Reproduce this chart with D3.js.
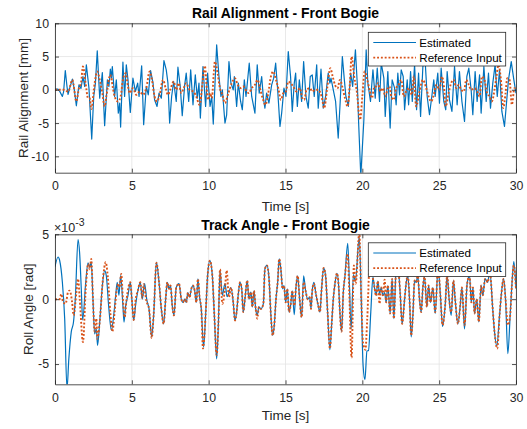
<!DOCTYPE html>
<html><head><meta charset="utf-8">
<script src="https://cdn.jsdelivr.net/npm/d3@7"></script>
<style>
body{margin:0;background:#fff}
svg{display:block}
text{font-family:"Liberation Sans",Arial,Helvetica,sans-serif}
</style>
</head><body>
<svg id="c" width="527" height="429"></svg>
<script>
// ---------------- data ----------------
const timeTicks = [0, 5, 10, 15, 20, 25, 30];
const railTicks = [-10, -5, 0, 5, 10];
const rollTicks = [-5, 0, 5];            // in units of 1e-3 rad
const seriesNames = ["Estimated", "Reference Input"];
const titles = ["Rail Alignment - Front Bogie", "Track Angle - Front Bogie"];
const yLabels = ["Rail Alignment [mm]", "Roll Angle [rad]"];
const xLabel = "Time [s]";

// Rail alignment [mm] : [time s, value]
const railEstimated = [[0,0.1],[0.19,0.1],[0.3,-0.2],[0.48,-1.0],[0.56,-0.3],[0.67,2.9],[0.78,0.5],[0.85,-0.7],[0.95,0.2],[1.13,1.6],[1.24,0.3],[1.39,-2.4],[1.56,0.75],[1.69,0.2],[1.82,2.0],[1.93,0.5],[2.04,3.75],[2.21,0.25],[2.39,-7.4],[2.52,-1.0],[2.63,1.0],[2.75,5.85],[2.91,-1.25],[3.08,2.6],[3.23,-5.4],[3.41,1.5],[3.51,0.5],[3.6,3.1],[3.67,1.8],[3.73,3.5],[3.88,-1.0],[3.99,1.5],[4.12,-3.5],[4.21,-2.0],[4.27,-5.6],[4.42,4.15],[4.53,-1.0],[4.64,3.75],[4.75,1.5],[4.9,-3.4],[5.07,1.75],[5.23,-0.25],[5.38,1.0],[5.47,-1.0],[5.64,3.6],[5.77,-5.25],[5.94,0.5],[6.07,-0.75],[6.22,2.9],[6.38,1.0],[6.48,-1.5],[6.64,-2.5],[6.77,-0.5],[6.92,-1.25],[7.09,4.4],[7.24,3.0],[7.35,1.0],[7.46,-5.0],[7.59,-1.0],[7.72,1.25],[7.89,-1.75],[8.0,3.4],[8.15,0.5],[8.28,-3.9],[8.44,0.75],[8.54,2.5],[8.7,-1.75],[8.83,3.0],[8.98,-2.25],[9.13,2.25],[9.26,-1.25],[9.37,1.0],[9.46,-4.25],[9.63,3.5],[9.8,-2.5],[9.93,2.5],[10.09,-2.5],[10.2,-1.0],[10.3,-5.15],[10.52,6.75],[10.67,2.0],[10.8,-1.0],[10.89,0],[11.06,-5.0],[11.17,-3.75],[11.32,4.25],[11.45,1.0],[11.6,0],[11.67,2.0],[11.82,-2.5],[11.93,1.0],[12.08,-1.75],[12.19,-3.0],[12.32,1.5],[12.43,-1.0],[12.64,4.0],[12.8,-1.0],[13.01,-3.5],[13.16,3.75],[13.29,-0.5],[13.45,2.0],[13.56,-1.25],[13.66,-2.75],[13.77,-0.5],[13.92,-2.0],[14.1,0.75],[14.23,1.75],[14.36,4.0],[14.49,0],[14.64,-5.5],[14.75,-3.5],[14.9,0.25],[15.03,-1.0],[15.18,5.75],[15.33,2.0],[15.44,-3.25],[15.57,1.0],[15.66,2.5],[15.77,-2.5],[15.9,1.5],[16.05,-1.75],[16.18,4.25],[16.33,-1.0],[16.48,-2.75],[16.61,2.0],[16.74,2.25],[16.87,-1.0],[17.03,3.75],[17.13,-2.75],[17.31,3.1],[17.46,-2.75],[17.61,-1.0],[17.78,2.5],[17.89,1.0],[17.96,1.75],[18.11,0],[18.26,-1.75],[18.43,-7.25],[18.56,-1.75],[18.7,5.0],[18.83,1.5],[18.93,-1.0],[19.09,-2.5],[19.24,2.5],[19.37,0.5],[19.55,6.0],[19.68,0.5],[19.76,-5.0],[19.9,-13],[20.1,-4.5],[20.25,6.0],[20.36,1.0],[20.53,-1.75],[20.69,3.0],[20.84,-1.25],[20.97,3.25],[21.12,-1.75],[21.23,4.0],[21.4,1.75],[21.49,-4.0],[21.66,2.75],[21.81,-5.75],[21.94,1.5],[22.1,0.25],[22.2,-2.25],[22.31,2.5],[22.42,-0.75],[22.53,3.0],[22.66,2.0],[22.75,-3.0],[22.92,1.5],[23.01,-2.25],[23.14,2.75],[23.25,-1.75],[23.4,3.75],[23.53,-3.0],[23.66,2.5],[23.79,-4.0],[23.94,3.5],[24.09,4.25],[24.22,-1.0],[24.37,-3.75],[24.52,-1.0],[24.65,1.5],[24.74,-1.0],[24.91,2.5],[25.02,-2.0],[25.13,3.25],[25.3,-1.75],[25.43,-3.0],[25.52,2.75],[25.67,-1.5],[25.83,-3.25],[26.0,3.5],[26.17,-2.25],[26.32,2.75],[26.48,-1.75],[26.65,-4.75],[26.8,2.0],[26.93,3.25],[27.08,0],[27.19,-3.75],[27.34,2.75],[27.47,-1.75],[27.63,2.25],[27.73,-3.5],[27.91,3.5],[28.06,-1.75],[28.21,2.5],[28.34,-2.75],[28.49,1.0],[28.64,3.75],[28.78,-1.0],[28.93,3.0],[29.08,-3.25],[29.25,-5.5],[29.4,-1.5],[29.51,1.5],[29.69,4.25],[29.86,1.5],[30.0,-0.5]];

const railReference = [[0,0],[0.6,0],[0.85,-0.3],[1.13,1.5],[1.39,-1.75],[1.56,0.25],[1.69,1.0],[1.82,3.5],[1.99,1.0],[2.15,-1.25],[2.26,-1.25],[2.36,-2.9],[2.58,1.0],[2.75,2.75],[2.91,1.5],[3.08,-0.5],[3.23,-2.5],[3.34,-1.0],[3.6,2.25],[3.77,0.25],[3.88,-1.0],[4.1,-1.75],[4.27,-1.0],[4.42,1.5],[4.6,2.5],[4.75,0.5],[4.86,-0.5],[5.07,0.25],[5.29,-0.75],[5.51,-0.25],[5.73,-0.75],[5.94,0.25],[6.16,2.75],[6.31,1.5],[6.48,-1.0],[6.64,-1.75],[6.81,-0.75],[7.03,1.5],[7.2,0.25],[7.35,-0.75],[7.5,0],[7.72,1.25],[7.89,0],[8.05,1.0],[8.22,-0.5],[8.37,0.25],[8.54,1.0],[8.76,0],[8.98,-0.25],[9.15,-0.75],[9.41,-2.25],[9.6,1.0],[9.75,3.6],[9.95,-1.5],[10.1,-0.5],[10.2,-1.25],[10.41,4.25],[10.58,2.5],[10.73,0.25],[10.89,-0.75],[11.06,-2.0],[11.28,-0.5],[11.5,1.0],[11.71,1.75],[11.89,0.75],[12.04,0.25],[12.25,0.5],[12.47,-0.25],[12.62,-0.5],[12.8,0.25],[13.01,0.75],[13.19,1.5],[13.34,0.25],[13.51,-1.25],[13.7,-2.25],[13.88,-0.5],[14.05,2.0],[14.2,2.75],[14.38,1.5],[14.53,0.25],[14.7,-1.5],[14.86,-0.5],[15.03,-0.25],[15.18,1.25],[15.33,1.0],[15.51,0.5],[15.72,-0.25],[15.94,0.25],[16.09,-1.25],[16.22,-1.5],[16.37,0],[16.59,0.25],[16.74,-0.25],[16.92,0],[17.13,0],[17.35,-1.0],[17.52,-2.75],[17.7,0],[17.92,3.25],[18.07,2.0],[18.22,0.75],[18.39,0.25],[18.54,1.5],[18.72,0.25],[18.87,-1.25],[19.04,-2.5],[19.19,1.0],[19.3,5.0],[19.47,2.0],[19.64,-0.25],[19.85,-4.5],[20.0,-1.0],[20.15,2.75],[20.32,1.5],[20.47,0],[20.62,-1.25],[20.79,0.5],[20.9,0.5],[21.01,1.0],[21.18,-0.25],[21.34,0.25],[21.49,-1.0],[21.66,0.25],[21.77,0.5],[21.88,-1.0],[22.05,-1.5],[22.2,0.25],[22.36,0.75],[22.53,1.5],[22.7,-1.0],[22.85,-0.25],[23.07,0.25],[23.22,-0.75],[23.35,2.0],[23.5,-2.5],[23.72,-0.25],[23.94,1.5],[24.16,0.25],[24.31,-1.0],[24.48,-1.75],[24.65,-0.75],[24.81,0.75],[25.02,0],[25.18,2.0],[25.3,0.75],[25.43,-2.5],[25.61,-0.5],[25.78,1.0],[25.95,1.5],[26.11,0.25],[26.26,0.75],[26.43,0],[26.61,-0.25],[26.76,1.5],[26.93,0.75],[27.08,0],[27.3,0.25],[27.47,-0.25],[27.63,-1.0],[27.78,2.0],[27.95,1.5],[28.12,-0.5],[28.28,-1.0],[28.43,-1.75],[28.6,0],[28.73,2.0],[28.86,3.75],[29.04,1.0],[29.17,-2.75],[29.32,-0.5],[29.43,1.75],[29.58,1.5],[29.73,-2.25],[29.9,0.25],[30.0,0]];

// Roll angle [x1e-3 rad] : [time s, value]
const rollEstimated = [[0,2.5],[0.2,3.25],[0.3,3.0],[0.48,1.3],[0.63,-1.5],[0.78,-6.9],[0.9,-4.6],[1.06,-2.5],[1.2,-1.8],[1.32,0],[1.5,4.6],[1.6,3.6],[1.71,0.8],[1.8,-1.6],[2.0,1.3],[2.15,2.8],[2.26,2.46],[2.36,2.85],[2.47,0],[2.58,-2.67],[2.69,-2.3],[2.77,-3.56],[2.91,-1.75],[3.08,1.0],[3.23,2.2],[3.34,1.8],[3.49,-0.5],[3.67,-2.4],[3.82,-1.25],[3.95,0.3],[4.05,1.3],[4.16,0.3],[4.27,1.82],[4.42,-0.5],[4.49,-1.77],[4.6,-0.5],[4.75,0.3],[4.9,1.3],[5.0,0],[5.12,-1.64],[5.25,-0.4],[5.4,0.67],[5.55,1.3],[5.68,0],[5.83,1.2],[5.98,-0.1],[6.12,-0.75],[6.29,-2.9],[6.42,-1.25],[6.6,2.85],[6.77,1.3],[6.92,-0.75],[7.07,-1.9],[7.2,0],[7.31,1.3],[7.42,0.8],[7.52,1.05],[7.63,-0.5],[7.74,-1.25],[7.89,0.9],[8.07,1.2],[8.22,0],[8.33,-0.25],[8.44,0],[8.54,-0.25],[8.65,0.5],[8.76,0.15],[8.87,0.8],[8.98,1.05],[9.09,0.65],[9.2,-0.25],[9.3,1.56],[9.41,0.15],[9.52,-0.75],[9.67,-3.7],[9.8,-1.25],[9.93,1.8],[10.08,2.97],[10.24,1.8],[10.37,-1.25],[10.52,-4.6],[10.63,-2.0],[10.74,2.2],[10.89,0.3],[11.06,1.2],[11.2,0.2],[11.45,0.9],[11.6,-0.25],[11.71,-1.64],[11.82,-1.0],[11.93,0.4],[12.04,1.3],[12.15,0.8],[12.25,-1.0],[12.36,0],[12.51,1.44],[12.62,0],[12.75,0.55],[12.84,-0.6],[12.95,0.65],[13.06,-0.75],[13.16,-1.25],[13.27,-0.6],[13.4,-0.75],[13.56,-0.35],[13.66,2.33],[13.79,2.6],[13.92,1.7],[14.05,-1.25],[14.16,-2.8],[14.27,-2.0],[14.38,0],[14.49,1.3],[14.59,3.1],[14.7,2.3],[14.81,0.8],[14.9,1.05],[15.01,-0.25],[15.12,0.8],[15.23,-1.0],[15.33,-0.5],[15.44,0.65],[15.57,-1.2],[15.68,0.9],[15.79,1.8],[15.92,0],[16.05,-1.4],[16.18,1.8],[16.31,0.65],[16.44,0],[16.57,0.15],[16.66,-0.75],[16.74,0.65],[16.85,1.3],[16.98,0.4],[17.13,-0.5],[17.24,-1.0],[17.35,0.8],[17.48,2.4],[17.61,1.8],[17.74,-1.0],[17.89,-3.9],[18.0,-2.0],[18.11,0],[18.22,1.2],[18.35,2.0],[18.46,1.0],[18.54,-1.0],[18.65,-2.5],[18.76,0.5],[18.87,1.8],[19.05,4.3],[19.15,1.5],[19.27,-2.3],[19.42,1.9],[19.55,1.4],[19.8,4.8],[19.93,0],[20.05,-5.1],[20.17,-6.2],[20.3,-4.0],[20.4,-3.95],[20.55,-1.0],[20.69,1.7],[20.79,0.9],[20.9,0.3],[21.01,1.4],[21.12,0.4],[21.23,0.9],[21.34,0.3],[21.45,0.5],[21.55,-0.25],[21.66,1.05],[21.81,-1.1],[21.94,1.56],[22.05,-1.5],[22.2,2.3],[22.31,2.6],[22.46,0.5],[22.59,-1.9],[22.75,0],[22.86,1.3],[22.96,1.8],[23.07,0],[23.18,-2.9],[23.29,-1.25],[23.4,1.44],[23.5,1.3],[23.61,1.8],[23.72,0],[23.83,-1.0],[23.94,0.9],[24.05,1.7],[24.2,-0.6],[24.31,1.05],[24.44,-0.25],[24.59,0.9],[24.74,-1.1],[24.93,2.4],[25.08,0.3],[25.22,-2.1],[25.39,-0.5],[25.52,1.8],[25.65,0],[25.78,-1.25],[25.93,1.44],[26.04,0],[26.22,-1.9],[26.37,-0.5],[26.48,0.9],[26.65,-2.3],[26.82,1.2],[26.98,1.8],[27.09,-0.25],[27.2,0.9],[27.3,-1.1],[27.45,0],[27.58,-1.75],[27.73,1.05],[27.84,0.3],[27.99,1.56],[28.17,1.3],[28.28,2.3],[28.5,-1.0],[28.6,-2.5],[28.75,-3.6],[28.93,-1.25],[29.04,0.3],[29.19,1.56],[29.32,0],[29.47,-4.2],[29.62,-1.25],[29.73,1.05],[29.86,2.9],[30.0,0.8]];

const rollReference = [[0,0],[0.3,0],[0.41,0.4],[0.52,-0.2],[0.69,-0.35],[0.85,0.55],[0.95,0.66],[1.11,-0.2],[1.21,-1.25],[1.39,0.5],[1.5,1.56],[1.61,0],[1.82,-3.3],[2.0,0.8],[2.17,2.72],[2.26,2.3],[2.36,3.1],[2.47,0],[2.58,-2.5],[2.69,-1.5],[2.75,-3.05],[2.91,-1.75],[3.12,1.56],[3.3,2.85],[3.43,1.8],[3.6,-1.0],[3.73,-2.5],[3.88,-1.0],[3.99,0.5],[4.14,1.2],[4.2,0.9],[4.31,1.95],[4.42,0],[4.53,-1.4],[4.66,0],[4.9,1.3],[5.0,0],[5.12,-1.6],[5.25,0],[5.38,0.6],[5.55,1.3],[5.68,0.1],[5.77,1.15],[5.94,-0.1],[6.12,-0.75],[6.29,-3.0],[6.42,-1.2],[6.6,2.8],[6.77,1.3],[6.92,-0.75],[7.07,-1.9],[7.2,0],[7.31,1.3],[7.42,0.8],[7.52,1.05],[7.63,-0.5],[7.74,-1.25],[7.89,0.9],[8.07,1.2],[8.22,0],[8.33,-0.25],[8.44,0],[8.54,-0.25],[8.65,0.5],[8.76,0.15],[8.87,0.8],[8.98,1.05],[9.09,0.65],[9.2,-0.25],[9.3,1.56],[9.41,0.15],[9.52,-0.75],[9.63,-3.8],[9.8,-1.25],[9.93,1.8],[10.08,2.97],[10.24,1.8],[10.37,-1.25],[10.52,-4.3],[10.63,-2.0],[10.74,2.3],[10.89,-0.35],[11.06,0.8],[11.17,2.2],[11.32,0.15],[11.45,0.9],[11.6,-0.25],[11.71,-1.64],[11.82,-1.0],[11.93,0.4],[12.04,1.3],[12.15,0.8],[12.25,-1.0],[12.36,0],[12.51,1.44],[12.62,0],[12.75,0.55],[12.84,-0.6],[12.95,0.65],[13.06,-0.75],[13.16,-1.5],[13.27,-0.6],[13.4,-0.75],[13.56,-0.35],[13.66,2.33],[13.79,2.6],[13.92,1.7],[14.05,-1.25],[14.16,-2.8],[14.27,-2.0],[14.38,0],[14.49,1.3],[14.59,3.1],[14.7,2.3],[14.81,0.8],[14.9,1.05],[15.01,-0.25],[15.12,0.8],[15.23,-1.0],[15.33,-0.5],[15.44,0.65],[15.57,-0.5],[15.68,0.9],[15.79,1.8],[15.92,0],[16.05,-1.4],[16.18,1.3],[16.31,0.65],[16.44,0],[16.57,0.15],[16.66,-0.75],[16.74,0.65],[16.85,1.2],[16.98,0.4],[17.13,-0.5],[17.24,-1.0],[17.35,0.8],[17.48,2.4],[17.61,1.8],[17.74,-1.0],[17.89,-3.8],[18.0,-2.0],[18.11,0],[18.22,1.2],[18.35,2.0],[18.46,1.0],[18.54,-1.0],[18.65,-2.5],[18.76,0.5],[18.87,1.8],[19.05,3.5],[19.15,0.5],[19.3,-4.5],[19.45,2.6],[19.57,1.2],[19.8,5.1],[19.93,0],[20.05,-3.4],[20.2,-3.9],[20.32,-1.5],[20.5,3.2],[20.66,1.8],[20.79,0.9],[20.9,0.25],[21.01,1.4],[21.12,-0.35],[21.23,0.9],[21.34,0.3],[21.45,1.5],[21.55,-0.25],[21.66,1.05],[21.81,-1.1],[21.94,1.56],[22.05,-1.5],[22.2,2.3],[22.31,2.6],[22.46,0.5],[22.59,-1.9],[22.75,0],[22.86,1.3],[22.96,1.8],[23.07,0],[23.18,-2.8],[23.29,-1.25],[23.4,1.44],[23.5,1.3],[23.61,1.8],[23.72,0],[23.83,-1.0],[23.94,0.9],[24.05,1.7],[24.2,-0.6],[24.31,1.05],[24.44,-0.25],[24.59,0.9],[24.74,-1.0],[24.93,2.4],[25.08,0.3],[25.22,-2.0],[25.39,-0.5],[25.52,1.8],[25.65,0],[25.78,-1.0],[25.93,1.44],[26.04,0],[26.22,-1.9],[26.37,-0.5],[26.48,0.9],[26.65,-2.0],[26.82,1.2],[26.98,1.8],[27.09,-0.25],[27.2,0.9],[27.3,-1.1],[27.45,0],[27.58,-1.75],[27.73,1.05],[27.84,0.3],[27.99,1.56],[28.17,1.3],[28.28,2.3],[28.5,-1.0],[28.6,-2.5],[28.78,-3.8],[28.93,-1.25],[29.04,0.3],[29.19,1.56],[29.32,0],[29.47,-2.0],[29.62,-1.25],[29.73,1.05],[29.86,2.6],[30.0,0.8]];

// ---------------- drawing ----------------
const svg = d3.select("#c");
const defs = svg.append("defs");
const X0 = 55, X1 = 516;
const AX = "#262626";
const BLUE = "#0072BD", ORANGE = "#D95319";

function panel(cfg) {
  const x = d3.scaleLinear().domain([0, 30]).range([X0, X1]);
  const y = d3.scaleLinear().domain(cfg.yDomain).range([cfg.bottom, cfg.top]);
  const g = svg.append("g");

  // grid
  g.append("g").selectAll("line").data(timeTicks).join("line")
    .attr("x1", d => x(d)).attr("x2", d => x(d))
    .attr("y1", cfg.top).attr("y2", cfg.bottom)
    .attr("stroke", "#e3e3e3").attr("stroke-width", 0.8);
  g.append("g").selectAll("line").data(cfg.yTicks).join("line")
    .attr("x1", X0).attr("x2", X1)
    .attr("y1", d => y(d)).attr("y2", d => y(d))
    .attr("stroke", "#e3e3e3").attr("stroke-width", 0.8);

  // clip
  defs.append("clipPath").attr("id", cfg.key).append("rect")
    .attr("x", X0).attr("y", cfg.top).attr("width", X1 - X0).attr("height", cfg.bottom - cfg.top);
  const plot = g.append("g").attr("clip-path", `url(#${cfg.key})`);

  const lineEst = d3.line().x(d => x(d[0])).y(d => y(d[1])).curve(cfg.estCurve);
  const lineRef = d3.line().x(d => x(d[0])).y(d => y(d[1])).curve(d3.curveMonotoneX);

  plot.append("path").datum(cfg.est).attr("d", lineEst)
    .attr("fill", "none").attr("stroke", BLUE).attr("stroke-width", 1.2)
    .attr("stroke-linejoin", "round");
  plot.append("path").datum(cfg.ref).attr("d", lineRef)
    .attr("fill", "none").attr("stroke", ORANGE).attr("stroke-width", 1.9)
    .attr("stroke-dasharray", "1.9,1.9");

  // axes
  const fmt = cfg.fmt || (d => d);
  const axB = g.append("g").attr("transform", `translate(0,${cfg.bottom})`)
    .call(d3.axisBottom(x).tickValues(timeTicks).tickSize(-4).tickSizeOuter(0).tickPadding(9));
  const axT = g.append("g").attr("transform", `translate(0,${cfg.top})`)
    .call(d3.axisTop(x).tickValues(timeTicks).tickSize(-4).tickSizeOuter(0).tickFormat(""));
  const axL = g.append("g").attr("transform", `translate(${X0},0)`)
    .call(d3.axisLeft(y).tickValues(cfg.yTicks).tickSize(-4).tickSizeOuter(0).tickPadding(6).tickFormat(fmt));
  const axR = g.append("g").attr("transform", `translate(${X1},0)`)
    .call(d3.axisRight(y).tickValues(cfg.yTicks).tickSize(-4).tickSizeOuter(0).tickFormat(""));
  [axB, axT, axL, axR].forEach(a => {
    a.select(".domain").attr("stroke", AX).attr("stroke-width", 0.8);
    a.selectAll(".tick line").attr("stroke", AX).attr("stroke-width", 0.8);
    a.selectAll(".tick text").attr("fill", AX).style("font-size", "12.3px")
      .style("font-family", '"Liberation Sans", Arial, sans-serif');
  });

  // title
  svg.append("text").attr("x", (X0 + X1) / 2).attr("y", cfg.titleY)
    .attr("text-anchor", "middle").style("font-size", "13.9px").style("font-weight", "bold")
    .attr("fill", "#000").text(cfg.title);
  // x label
  svg.append("text").attr("x", (X0 + X1) / 2).attr("y", cfg.xLabelY)
    .attr("text-anchor", "middle").style("font-size", "13.5px").attr("fill", AX).text(xLabel);
  // y label
  svg.append("text").attr("transform", `translate(${cfg.yLabelX},${(cfg.top + cfg.bottom) / 2}) rotate(-90)`)
    .attr("text-anchor", "middle").style("font-size", "13.5px").attr("fill", AX).text(cfg.yLabel);

  // legend
  const lg = svg.append("g");
  lg.append("rect").attr("x", 368.3).attr("y", cfg.legendY).attr("width", 137.4).attr("height", 33.7)
    .attr("fill", "#fff").attr("stroke", AX).attr("stroke-width", 0.8);
  const rows = [cfg.legendY + 10.2, cfg.legendY + 25.3];
  seriesNames.forEach((name, i) => {
    const ly = rows[i];
    lg.append("line").attr("x1", 373.3).attr("x2", 416).attr("y1", ly).attr("y2", ly)
      .attr("stroke", i === 0 ? BLUE : ORANGE)
      .attr("stroke-width", i === 0 ? 1.2 : 1.9)
      .attr("stroke-dasharray", i === 0 ? null : "1.9,1.9");
    lg.append("text").attr("x", 419.3).attr("y", ly).attr("dy", "0.35em")
      .style("font-size", "11.6px").attr("fill", "#000").text(name);
  });
}

panel({
  key: "clipTop", top: 23.3, bottom: 172.7, yDomain: [-12.46, 10], yTicks: railTicks,
  est: railEstimated, ref: railReference, estCurve: d3.curveLinear,
  title: titles[0], titleY: 18, xLabelY: 210.5, yLabel: yLabels[0], yLabelX: 27.5, legendY: 32.3
});
panel({
  key: "clipBot", top: 234.3, bottom: 384.3, yDomain: [-6.56, 5], yTicks: rollTicks,
  est: rollEstimated, ref: rollReference, estCurve: d3.curveMonotoneX,
  title: titles[1], titleY: 229.5, xLabelY: 419.5, yLabel: yLabels[1], yLabelX: 32.5, legendY: 242.8
});

// exponent label
const ex = svg.append("text").attr("x", 54).attr("y", 232).attr("fill", AX).style("font-size", "12.5px");
ex.append("tspan").text("\u00d710");
ex.append("tspan").attr("dy", -6).style("font-size", "10.5px").text("-3");
</script>
</body></html>
